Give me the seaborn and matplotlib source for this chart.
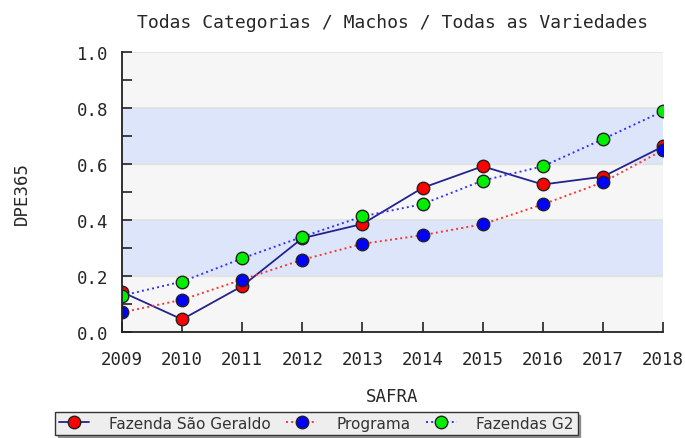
import pandas as pd
import seaborn as sns
import matplotlib.pyplot as plt

years = [2009, 2010, 2011, 2012, 2013, 2014, 2015, 2016, 2017, 2018]
sao_geraldo = [0.143, 0.045, 0.164, 0.335, 0.386, 0.515, 0.592, 0.527, 0.555, 0.663]
programa = [0.070, 0.115, 0.187, 0.258, 0.315, 0.346, 0.385, 0.456, 0.535, 0.650]
fazendas_g2 = [0.130, 0.180, 0.263, 0.340, 0.413, 0.457, 0.541, 0.592, 0.689, 0.789]

y_ticks = [0.0, 0.2, 0.4, 0.6, 0.8, 1.0]
y_minor = [0.1, 0.3, 0.5, 0.7, 0.9]

series = {
    "Fazenda São Geraldo": (sao_geraldo, "#ff0000", "#23238e", "-"),
    "Programa": (programa, "#0000ff", "#ff3333", ":"),
    "Fazendas G2": (fazendas_g2, "#00ee00", "#3333ff", ":"),
}


def main():
    sns.set_style("white")
    plt.rcParams["font.family"] = ["DejaVu Sans Mono", "DejaVu Sans"]

    fig = plt.figure(figsize=(6.85, 4.39), dpi=100)
    ax = fig.add_axes([0.178, 0.2415, 0.79, 0.6375])

    # alternating bands
    ax.set_facecolor("#f6f6f6")
    for lo, hi in [(0.2, 0.4), (0.6, 0.8)]:
        ax.axhspan(lo, hi, color="#dde5fa", zorder=0)
    for y in y_ticks[1:]:
        ax.axhline(y, color="#e2e2e2", lw=1.2, zorder=0.5)

    for label, (vals, mcolor, lcolor, ls) in series.items():
        df = pd.DataFrame({"SAFRA": years, "DPE365": vals})
        sns.lineplot(data=df, x="SAFRA", y="DPE365", ax=ax, color=lcolor,
                     linestyle=ls, lw=1.3 if ls == "-" else 1.4,
                     marker="o", markersize=9, markerfacecolor=mcolor,
                     markeredgecolor="#222222", markeredgewidth=1.0,
                     label=label, legend=False)

    ax.set_xlim(2009, 2018)
    ax.set_ylim(0, 1.0)
    ax.set_xticks(years)
    ax.set_xticklabels([str(y) for y in years], fontsize=12.5)
    ax.set_yticks(y_ticks)
    ax.set_yticklabels([f"{v:.1f}" for v in y_ticks], fontsize=12.5)
    ax.set_yticks(y_minor, minor=True)
    ax.tick_params(axis="both", which="both", direction="in", length=7,
                   width=1.2, color="#222222", left=True, bottom=True)
    ax.tick_params(axis="x", pad=13)
    ax.tick_params(axis="y", pad=10)

    for s in ["top", "right"]:
        ax.spines[s].set_visible(False)
    for s in ["left", "bottom"]:
        ax.spines[s].set_color("#222222")
        ax.spines[s].set_linewidth(1.3)

    ax.set_title("Todas Categorias / Machos / Todas as Variedades",
                 fontsize=13, pad=18)
    ax.set_xlabel("SAFRA", fontsize=12.5, labelpad=14)
    ax.set_ylabel("DPE365", fontsize=12.5, labelpad=33)

    handles, labels = ax.get_legend_handles_labels()
    fig.legend(handles, labels, loc="upper left",
               bbox_to_anchor=(55 / 685, 1 - 413 / 439), borderaxespad=0,
               ncol=3, frameon=True, fancybox=False, shadow=True,
               facecolor="#eeeeee", edgecolor="#333333", framealpha=1,
               prop={"family": "DejaVu Sans", "size": 11},
               labelcolor="#333333", handlelength=2.0, handletextpad=1.3,
               columnspacing=1.0, borderpad=0.25)

    plt.savefig("out.png", dpi=100)


if __name__ == "__main__":
    main()
